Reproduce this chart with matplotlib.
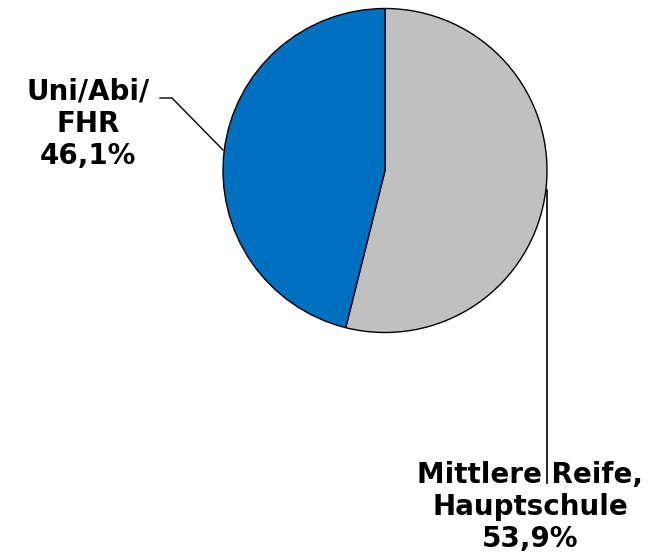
import matplotlib
matplotlib.use("Agg")
import matplotlib.pyplot as plt

labels = ["Mittlere Reife,\nHauptschule\n53,9%", "Uni/Abi/\nFHR\n46,1%"]
shares = [53.9, 46.1]
colors = ["#C0C0C0", "#0070C0"]

W, H = 652, 558
fig = plt.figure(figsize=(W / 100, H / 100), dpi=100)
ax = fig.add_axes([0, 0, 1, 1])
ax.set_xlim(0, W)
ax.set_ylim(0, H)
ax.set_aspect("equal")
ax.axis("off")

cx, cy, r = 385, H - 170.5, 162
ax.pie(shares, colors=colors, startangle=90, counterclock=False,
       center=(cx, cy), radius=r,
       wedgeprops=dict(edgecolor="black", linewidth=1.0))
ax.set_xlim(0, W)
ax.set_ylim(0, H)

# leader lines
ax.plot([160, 172, 223], [H - 98, H - 98, H - 150], color="black", lw=1)
ax.plot([546.5, 546.5], [H - 190, H - 483], color="black", lw=1.2)

font = dict(fontsize=20, fontweight="bold", family="DejaVu Sans",
            ha="center", va="center", linespacing=1.2)
ax.text(88, H - 124, labels[1], **font)
ax.text(530, H - 507, labels[0], **font)

fig.savefig("out.png", dpi=100)
